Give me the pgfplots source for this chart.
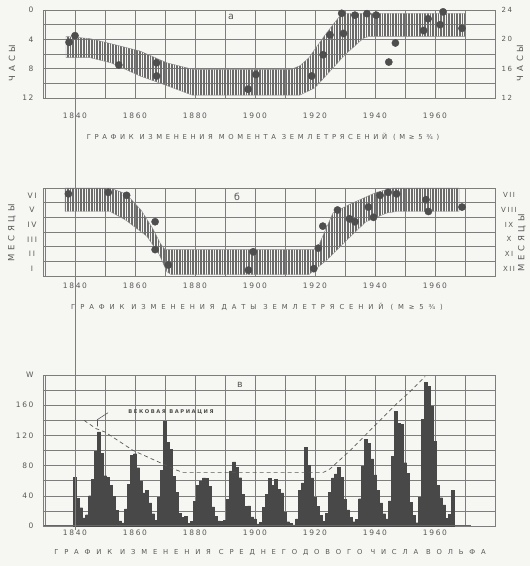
\documentclass[border=0pt]{standalone}
\usepackage{fontspec}
\setmainfont{DejaVu Sans}
\usepackage{pgfplots}
\pgfplotsset{compat=1.18}
\usetikzlibrary{patterns.meta}
\definecolor{paper}{RGB}{246,246,243}
\definecolor{ink}{RGB}{88,88,88}
\definecolor{gridc}{RGB}{125,125,125}
\definecolor{dot}{RGB}{78,78,78}
\definecolor{barc}{RGB}{72,72,72}
\pgfplotsset{
 panel/.style={
  scale only axis, width=452pt, xmin=1829.33, xmax=1980,
  axis line style={gridc, line width=0.7pt},
  grid style={gridc, line width=0.45pt},
  major tick length=0pt, minor tick length=0pt,
  xtick={1840,1860,1880,1900,1920,1940,1960},
  xticklabels={1840,1860,1880,1900,1920,1940,1960},
  minor xtick={1830,1850,1870,1890,1910,1930,1950,1970},
  xmajorgrids, xminorgrids,
  tick label style={font=\fontsize{7.5}{8}\selectfont\addfontfeatures{LetterSpace=22}, text=ink},
  clip=false,
 },
 rightax/.style={
  scale only axis, width=452pt, xmin=1829.33, xmax=1980,
  axis x line=none, axis y line*=right, axis line style={draw=none},
  major tick length=0pt,
  tick label style={font=\fontsize{7}{8}\selectfont\addfontfeatures{LetterSpace=22}, text=ink},
  yticklabel style={xshift=3pt},
 },
}
\newcommand{\ttl}{\fontsize{6.8}{8}\selectfont}
\newcommand{\ylab}{\fontsize{8.5}{9}\selectfont\addfontfeatures{LetterSpace=45}}
\begin{document}
\begin{tikzpicture}[x=1pt,y=1pt]
\path[use as bounding box, fill=paper] (0,0) rectangle (530,566);

% ---------------- panel a ----------------
\begin{axis}[panel, at={(43pt,468pt)}, anchor=south west, height=88pt,
  ymin=0, ymax=12, y dir=reverse, ytick={0,4,8,12}, yticklabels={0,4,8,12},
  minor ytick={2,6,10}, ymajorgrids, yminorgrids,
  xticklabel style={yshift=-11pt}, yticklabel style={xshift=-6pt}]
\addplot[draw=black!45, line width=0.4pt, pattern={Lines[angle=90,distance=1.6pt,line width=0.7pt]}, pattern color=black!58]
 coordinates {(1837,3.6) (1845,3.9) (1852,4.6) (1861.7,5.6) (1870.6,7.2) (1879.4,8.1)
 (1912,8.1) (1915,7.6) (1918,6.5) (1923,3.6) (1926,2.0) (1929,0.45) (1970,0.45)
 (1970,3.6) (1938,3.6) (1936,3.9) (1930,6.1) (1920,10.6) (1915,11.6) (1879,11.6)
 (1870.6,10.3) (1861.7,9.0) (1852,7.2) (1845,6.5) (1837,6.5)} -- cycle;
\addplot[only marks, mark=*, mark size=3.6pt, mark options={fill=dot, draw=black!70}]
 coordinates {(1838,4.4) (1840,3.5) (1854.6,7.5) (1867.2,7.2) (1867.2,9.0) (1897.7,10.8)
 (1900.3,8.8) (1918.9,9.0) (1922.7,6.1) (1925,3.4) (1929.5,3.2) (1928.9,0.45)
 (1933.3,0.7) (1937.3,0.5) (1940.4,0.7) (1946.8,4.5) (1944.6,7.1) (1956.2,2.8)
 (1957.7,1.2) (1961.7,2.0) (1962.7,0.25) (1969,2.5)};
\node[text=ink, font=\fontsize{9.5}{9}\selectfont] at (axis cs:1892,1) {а};
\end{axis}
\begin{axis}[rightax, at={(43pt,468pt)}, anchor=south west, height=88pt,
  ymin=0, ymax=12, y dir=reverse, ytick={0,4,8,12}, yticklabels={24,20,16,12}]
\addplot[draw=none] coordinates {(1900,6)};
\end{axis}
\node[rotate=90, text=ink, font=\ylab] at (12,503) {ЧАСЫ};
\node[rotate=90, text=ink, font=\ylab] at (520,503) {ЧАСЫ};
\node[text=ink, font=\ttl\addfontfeatures{LetterSpace=54}] at (263,429) {ГРАФИК ИЗМЕНЕНИЯ МОМЕНТА ЗЕМЛЕТРЯСЕНИЙ (M≥5¾)};

% ---------------- panel b ----------------
\begin{axis}[panel, at={(43pt,290pt)}, anchor=south west, height=88pt,
  ymin=0, ymax=6, ytick={0.5,1.5,2.5,3.5,4.5,5.5}, yticklabels={I,II,III,IV,V,VI},
  minor ytick={1,2,3,4,5}, yminorgrids,
  xticklabel style={yshift=-3pt}, yticklabel style={anchor=center, xshift=-11pt}]
\addplot[draw=black!45, line width=0.4pt, pattern={Lines[angle=90,distance=1.6pt,line width=0.7pt]}, pattern color=black!58]
 coordinates {(1836.7,6) (1851.7,6) (1857,5.6) (1862,4.5) (1866,3.2) (1868.5,2.2) (1870,1.8)
 (1920.6,1.8) (1926,4.3) (1931.7,4.9) (1940.4,5.7) (1946,6) (1968,6)
 (1968,4.4) (1947.3,4.4) (1944,4.3) (1937,3.7) (1930.6,2.45) (1924,1.1) (1918,0.1)
 (1872,0.1) (1870.6,0.3) (1868,1.5) (1864,2.7) (1857,3.8) (1851.7,4.4) (1836.7,4.4)} -- cycle;
\addplot[only marks, mark=*, mark size=3.6pt, mark options={fill=dot, draw=black!70}]
 coordinates {(1837.8,5.6) (1851.1,5.7) (1857.2,5.5) (1866.7,3.7) (1866.7,1.8) (1871.1,0.75)
 (1899.4,1.65) (1897.8,0.4) (1921.1,1.9) (1919.6,0.5) (1922.6,3.4) (1927.5,4.5)
 (1931.5,3.9) (1933.3,3.7) (1937.8,4.7) (1939.5,4.0) (1941.7,5.5) (1944.4,5.7)
 (1947.2,5.6) (1957,5.2) (1957.8,4.4) (1969,4.7)};
\node[text=ink, font=\fontsize{9.5}{9}\selectfont] at (axis cs:1894,5.4) {б};
\end{axis}
\begin{axis}[rightax, at={(43pt,290pt)}, anchor=south west, height=88pt,
  ymin=0, ymax=6, ytick={0.5,1.5,2.5,3.5,4.5,5.5}, yticklabels={XII,XI,X,IX,VIII,VII},
  yticklabel style={anchor=center, xshift=11pt}]
\addplot[draw=none] coordinates {(1900,3)};
\end{axis}
\node[rotate=90, text=ink, font=\ylab] at (12,333) {МЕСЯЦЫ};
\node[rotate=90, text=ink, font=\ylab] at (522,323) {МЕСЯЦЫ};
\node[text=ink, font=\ttl\addfontfeatures{LetterSpace=72}] at (257,259) {ГРАФИК ИЗМЕНЕНИЯ ДАТЫ ЗЕМЛЕТРЯСЕНИЙ (M≥5¾)};

% ---------------- panel c ----------------
\begin{axis}[panel, at={(43pt,40pt)}, anchor=south west, height=151pt,
  ymin=0, ymax=200, ytick={0,40,80,120,160,200}, yticklabels={0,40,80,120,160,W},
  minor ytick={20,60,100,140,180}, ymajorgrids, yminorgrids,
  yticklabel style={xshift=-6pt}]
\addplot[ybar, bar width=1, bar shift=0, fill=barc, draw=barc, line width=0.3pt]
 coordinates {(1840,64.6) (1841,36.7) (1842,24.2) (1843,10.7) (1844,15.0) (1845,40.1)
 (1846,61.5) (1847,98.5) (1848,124.7) (1849,96.3) (1850,66.6) (1851,64.5) (1852,54.1)
 (1853,39.0) (1854,20.6) (1855,6.7) (1856,4.3) (1857,22.7) (1858,54.8) (1859,93.8)
 (1860,95.8) (1861,77.2) (1862,59.1) (1863,44.0) (1864,47.0) (1865,30.5) (1866,16.3)
 (1867,7.3) (1868,37.6) (1869,74.0) (1870,139.0) (1871,111.2) (1872,101.6) (1873,66.2)
 (1874,44.7) (1875,17.0) (1876,11.3) (1877,12.4) (1878,3.4) (1879,6.0) (1880,32.3)
 (1881,54.3) (1882,59.7) (1883,63.7) (1884,63.5) (1885,52.2) (1886,25.4) (1887,13.1)
 (1888,6.8) (1889,6.3) (1890,7.1) (1891,35.6) (1892,73.0) (1893,85.1) (1894,78.0)
 (1895,64.0) (1896,41.8) (1897,26.2) (1898,26.7) (1899,12.1) (1900,9.5) (1901,2.7)
 (1902,5.0) (1903,24.4) (1904,42.0) (1905,63.5) (1906,53.8) (1907,62.0) (1908,48.5)
 (1909,43.9) (1910,18.6) (1911,5.7) (1912,3.6) (1913,1.4) (1914,9.6) (1915,47.4)
 (1916,57.1) (1917,103.9) (1918,80.6) (1919,63.6) (1920,37.6) (1921,26.1) (1922,14.2)
 (1923,5.8) (1924,16.7) (1925,44.3) (1926,63.9) (1927,69.0) (1928,77.8) (1929,64.9)
 (1930,35.7) (1931,21.2) (1932,11.1) (1933,5.7) (1934,8.7) (1935,36.1) (1936,79.7)
 (1937,114.4) (1938,109.6) (1939,88.8) (1940,67.8) (1941,47.5) (1942,30.6) (1943,16.3)
 (1944,9.6) (1945,33.2) (1946,92.6) (1947,151.6) (1948,136.3) (1949,134.7) (1950,83.9)
 (1951,69.4) (1952,31.5) (1953,13.9) (1954,4.4) (1955,38.0) (1956,141.7) (1957,190.2)
 (1958,184.8) (1959,159.0) (1960,112.3) (1961,53.9) (1962,37.5) (1963,27.9) (1964,10.2)
 (1965,15.1) (1966,47.0)};
\addplot[black!60, line width=1.4pt] coordinates {(1829.5,0.9) (1972,0.9)};
\addplot[ink, line width=0.7pt, dash pattern=on 4pt off 3pt]
 coordinates {(1843,140) (1847,129) (1850,124.5) (1859.4,100) (1868.3,84) (1872.8,75.6)
 (1876,71) (1905,71) (1922.8,71) (1925,75.6) (1931.7,100) (1937.2,122) (1941.7,140)
 (1946.7,160) (1951.7,178) (1956.7,198)};
\draw[ink, line width=0.6pt] (axis cs:1851,150) -- (axis cs:1847.5,141) -- (axis cs:1847.5,132);
\node[text=black!70, font=\fontsize{5.2}{6}\selectfont\bfseries\addfontfeatures{LetterSpace=30}] at (axis cs:1872,151) {ВЕКОВАЯ ВАРИАЦИЯ};
\node[text=ink, font=\fontsize{9.5}{9}\selectfont] at (axis cs:1895,187) {в};
\end{axis}
\node[text=ink, font=\ttl\addfontfeatures{LetterSpace=86}] at (270,13) {ГРАФИК ИЗМЕНЕНИЯ СРЕДНЕГОДОВОГО ЧИСЛА ВОЛЬФА};

% long vertical line through 1840
\draw[gridc, line width=0.6pt] (75,468) -- (75,36);
\end{tikzpicture}
\end{document}
